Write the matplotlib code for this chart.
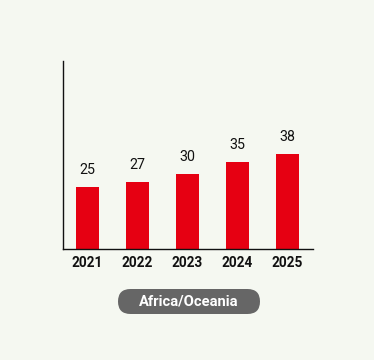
import matplotlib.pyplot as plt
from matplotlib.patches import FancyBboxPatch

years = ["2021", "2022", "2023", "2024", "2025"]
values = [25, 27, 30, 35, 38]
region = "Africa/Oceania"

bg = "#f5f8f1"
red = "#e60012"

plt.rcParams['font.family'] = ['Roboto', 'DejaVu Sans']

fig = plt.figure(figsize=(3.74, 3.60), dpi=100, facecolor=bg)
ax = fig.add_axes([62.5/374, 110.7/360, 250/374, 188/360])
ax.set_facecolor(bg)

x = range(len(years))
ax.bar(x, values, width=0.46, color=red)
for i, v in zip(x, values):
    ax.annotate(str(v), (i, v), xytext=(0, 7), textcoords="offset points",
                ha="center", va="bottom", fontsize=10.3, color="#111111")

ax.set_xlim(-0.5, 4.5)
ax.set_ylim(0, 75)
ax.set_xticks(list(x))
ax.set_xticklabels(years, fontsize=9.8, fontweight="semibold", color="#111111")
ax.tick_params(axis="x", length=0, pad=5)
ax.set_yticks([])
for s in ["top", "right"]:
    ax.spines[s].set_visible(False)
for s in ["left", "bottom"]:
    ax.spines[s].set_linewidth(1)
    ax.spines[s].set_color("#111111")

# label pill under the chart
pill = FancyBboxPatch((1.18, 0.46), 1.42, 0.25,
                      boxstyle="round,pad=0,rounding_size=0.125",
                      transform=fig.dpi_scale_trans, facecolor="#666666",
                      edgecolor="none")
fig.patches.append(pill)
fig.text(1.89/3.74, 0.585/3.60, region, ha="center", va="center",
         color="white", fontsize=10.6, fontweight="bold")

fig.savefig("out.png", dpi=100, facecolor=bg)
